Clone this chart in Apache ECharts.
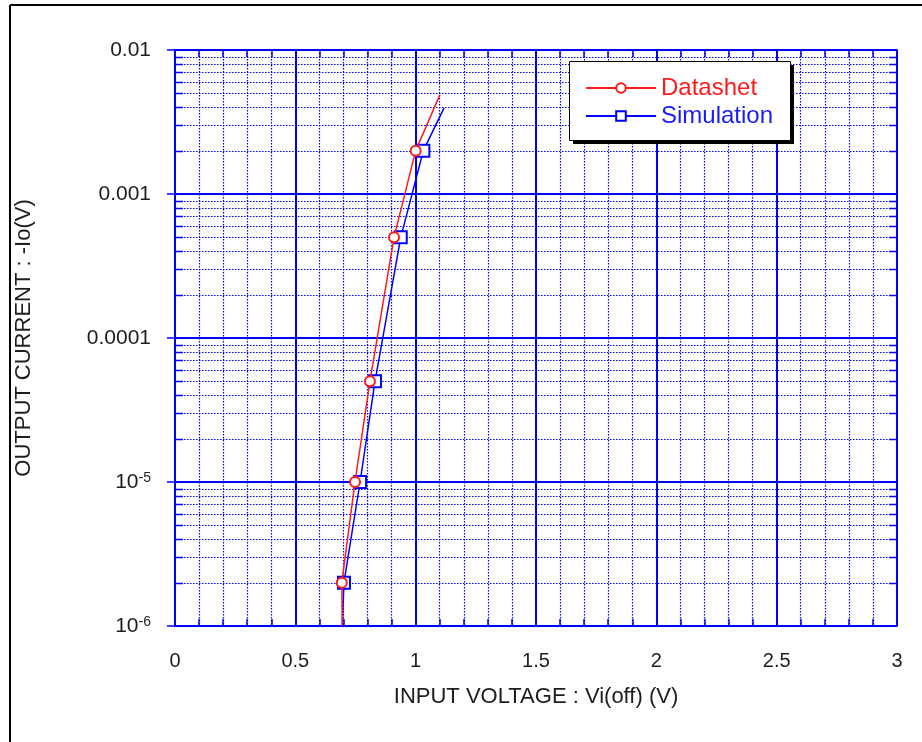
<!DOCTYPE html>
<html>
<head>
<meta charset="utf-8">
<script src="https://cdn.jsdelivr.net/npm/echarts@6/dist/echarts.min.js"></script>
<style>
html,body{margin:0;padding:0;background:#fff;}
#chart{width:922px;height:742px;}
</style>
</head>
<body>
<div id="chart"></div>
<script>
// Data
var datasheetV = [0.695, 0.693, 0.748, 0.810, 0.910, 1.000, 1.101];
var datasheetI = [1e-6, 2e-6, 1e-5, 5e-5, 5e-4, 2e-3, 4.9e-3];
var datasheetMarked = [false, true, true, true, true, true, false];

var simulationV = [0.695, 0.702, 0.769, 0.831, 0.938, 1.032, 1.118];
var simulationI = [1e-6, 2e-6, 1e-5, 5e-5, 5e-4, 2e-3, 3.96e-3];
var simulationMarked = [false, true, true, true, true, true, false];

var xMin = 0, xMax = 3, xStep = 0.5;
var yMin = 1e-6, yMax = 1e-2;
var yTickValues = [1e-6, 1e-5, 1e-4, 1e-3, 1e-2];
var yTickLabels = ['10{s|-6}', '10{s|-5}', '0.0001', '0.001', '0.01'];
var xTickLabels = ['0', '0.5', '1', '1.5', '2', '2.5', '3'];

var seriesNames = ['Datashet', 'Simulation'];

// minor log grid positions (2..9 per decade)
var yMinor = [];
for (var d = -6; d <= -3; d++) {
  for (var k = 2; k <= 9; k++) yMinor.push(k * Math.pow(10, d));
}

function mk(v, i, m) {
  return v.map(function (x, j) {
    return m[j] ? { value: [x, i[j]] } : { value: [x, i[j]], symbol: 'none' };
  });
}

var BLUE = '#0000ff';
var RED = '#ff1a1a';
var TXT = '#1e1e1e';
var FONT = '"Liberation Sans", Arial, sans-serif';
var DOT = [1.5, 1.5];

var chart = echarts.init(document.getElementById('chart'), null, { renderer: 'canvas' });

function yLabel(v) {
  for (var j = 0; j < yTickValues.length; j++) {
    if (Math.abs(Math.log10(v) - Math.log10(yTickValues[j])) < 1e-6) return yTickLabels[j];
  }
  return '';
}

function minorGrid(params, api) {
  var v = api.value(0);
  var a = api.coord([xMin, v]);
  var b = api.coord([xMax, v]);
  var y = Math.round(a[1]) + 0.5;
  return {
    type: 'group',
    children: [
      { type: 'line', shape: { x1: a[0], y1: y, x2: b[0], y2: y },
        style: { stroke: BLUE, lineWidth: 1.2, lineDash: DOT } },
      { type: 'line', shape: { x1: a[0], y1: y, x2: a[0] + 8, y2: y },
        style: { stroke: BLUE, lineWidth: 1.5 } },
      { type: 'line', shape: { x1: b[0] - 8, y1: y, x2: b[0], y2: y },
        style: { stroke: BLUE, lineWidth: 1.5 } }
    ]
  };
}

var option = {
  animation: false,
  backgroundColor: '#fff',
  textStyle: { fontFamily: FONT },
  graphic: [
    { type: 'line', z: 1, shape: { x1: 10, y1: 5, x2: 922, y2: 5 }, style: { stroke: '#000', lineWidth: 2 } },
    { type: 'line', z: 1, shape: { x1: 10, y1: 5, x2: 10, y2: 742 }, style: { stroke: '#000', lineWidth: 2 } },
    { type: 'rect', z: 50, shape: { x: 573, y: 65, width: 221, height: 79 }, style: { fill: '#000' } },
    { type: 'rect', z: 51, shape: { x: 569.5, y: 61.5, width: 221, height: 79 }, style: { fill: '#fff', stroke: '#000', lineWidth: 1 } }
  ],
  grid: { left: 175, top: 50, right: 25, bottom: 116, containLabel: false },
  legend: {
    z: 60,
    data: [
      { name: seriesNames[0], textStyle: { color: RED } },
      { name: seriesNames[1], textStyle: { color: '#1a1aff' } }
    ],
    orient: 'vertical',
    left: 569,
    top: 61,
    itemWidth: 70,
    itemHeight: 12,
    itemGap: 4,
    padding: [15, 18, 11, 16],
    textStyle: { fontFamily: FONT, fontSize: 24 }
  },
  xAxis: [
    {
      type: 'value', min: xMin, max: xMax, interval: xStep, position: 'bottom',
      name: 'INPUT VOLTAGE : Vi(off) (V)', nameLocation: 'middle', nameGap: 60,
      nameTextStyle: { fontFamily: FONT, fontSize: 22, color: TXT },
      axisLine: { show: true, lineStyle: { color: BLUE, width: 2 } },
      axisTick: { show: true, inside: true, length: 7, lineStyle: { color: BLUE, width: 1.5 } },
      minorTick: { show: true, splitNumber: 5, length: 7, lineStyle: { color: BLUE, width: 1.5 } },
      axisLabel: {
        margin: 25, fontSize: 20, color: TXT, fontFamily: FONT,
        formatter: function (v) { return xTickLabels[Math.round(v / xStep)]; }
      },
      splitLine: { show: true, lineStyle: { color: BLUE, width: 2 } },
      minorSplitLine: { show: true, lineStyle: { color: BLUE, width: 1.2, type: DOT } }
    },
    {
      type: 'value', min: xMin, max: xMax, interval: xStep, position: 'top',
      axisLine: { show: true, lineStyle: { color: BLUE, width: 2 } },
      axisTick: { show: true, inside: true, length: 7, lineStyle: { color: BLUE, width: 1.5 } },
      minorTick: { show: true, splitNumber: 5, length: 7, lineStyle: { color: BLUE, width: 1.5 } },
      axisLabel: { show: false },
      splitLine: { show: false }
    }
  ],
  yAxis: [
    {
      type: 'log', logBase: 10, min: yMin, max: yMax, position: 'left',
      name: 'OUTPUT CURRENT : -Io(V)', nameLocation: 'middle', nameGap: 140,
      nameTextStyle: { fontFamily: FONT, fontSize: 22, color: TXT },
      axisLine: { show: true, lineStyle: { color: BLUE, width: 2 } },
      axisTick: { show: true, inside: true, length: 8, lineStyle: { color: BLUE, width: 1.5 } },
      axisLabel: {
        margin: 24, fontSize: 21, color: TXT, fontFamily: FONT,
        formatter: yLabel,
        rich: { s: { fontSize: 14, verticalAlign: 'top', color: TXT, fontFamily: FONT } }
      },
      splitLine: { show: true, lineStyle: { color: BLUE, width: 2 } }
    },
    {
      type: 'log', logBase: 10, min: yMin, max: yMax, position: 'right',
      axisLine: { show: true, lineStyle: { color: BLUE, width: 2 } },
      axisTick: { show: true, inside: true, length: 8, lineStyle: { color: BLUE, width: 1.5 } },
      axisLabel: { show: false },
      splitLine: { show: false }
    }
  ],
  series: [
    {
      name: 'minorGrid', type: 'custom', z: 1, silent: true,
      xAxisIndex: 0, yAxisIndex: 0,
      data: yMinor.map(function (v) { return [v]; }),
      dimensions: ['v'],
      encode: { tooltip: 0 },
      renderItem: minorGrid
    },
    {
      name: seriesNames[1], type: 'line', z: 3,
      data: mk(simulationV, simulationI, simulationMarked),
      symbol: 'emptyRect', symbolSize: 12,
      lineStyle: { color: BLUE, width: 1.5 },
      itemStyle: { color: BLUE, borderWidth: 1.5 }
    },
    {
      name: seriesNames[0], type: 'line', z: 4,
      data: mk(datasheetV, datasheetI, datasheetMarked),
      symbol: 'emptyCircle', symbolSize: 10,
      lineStyle: { color: RED, width: 1.5 },
      itemStyle: { color: RED, borderWidth: 1.5 }
    }
  ]
};
chart.setOption(option);
</script>
</body>
</html>
